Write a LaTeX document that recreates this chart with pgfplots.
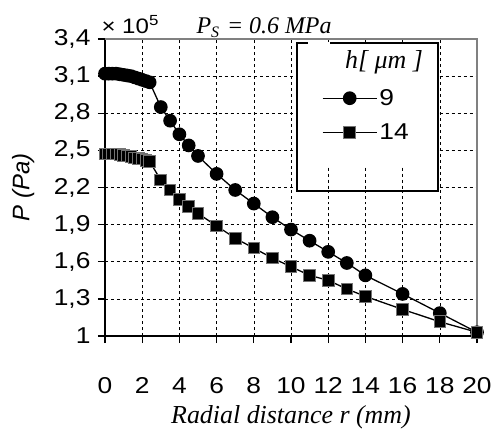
\documentclass[border=0pt]{standalone}
\usepackage{fontspec}
\setmainfont{Liberation Sans}
\newfontfamily\timesf{Liberation Serif}
\newfontfamily\tickf{Liberation Sans}[FakeStretch=1.15]
\usepackage{pgfplots}
\pgfplotsset{compat=1.18}

\begin{document}
\begin{tikzpicture}
\useasboundingbox (-105bp,-96bp) rectangle (389bp,336bp);
\begin{axis}[
  scale only axis, width=372bp, height=297bp,
  xmin=0, xmax=20, ymin=1, ymax=3.4,
  xtick={0,2,...,20},
  ytick={1,1.3,1.6,1.9,2.2,2.5,2.8,3.1,3.4},
  yticklabels={1,{1,3},{1,6},{1,9},{2,2},{2,5},{2,8},{3,1},{3,4}},
  /pgf/number format/assume math mode=true,
  tick label style={font=\tickf\fontsize{23}{26}\selectfont},
  xticklabel style={yshift=-31bp},
  yticklabel style={xshift=-4bp},
  axis lines*=left,
  axis line style={-, line width=1.5bp, black},
  tick align=outside, major tick length=7bp,
  tick style={black, line width=1.3bp},
  grid=major, major grid style={black, dashed, line width=0.6bp},
  xlabel={\timesf\itshape Radial distance r (mm)},
  ylabel={\itshape P (Pa)},
  xlabel style={font=\fontsize{26}{30}\selectfont, at={(axis description cs:0.5,-0.272)}, anchor=center},
  ylabel style={font=\fontsize{24}{28}\selectfont, at={(axis description cs:-0.22,0.5)}, anchor=center},
  legend style={draw=none, fill=none, font=\tickf\fontsize{23}{26}\selectfont,
    at={(rel axis cs:0.583,0.743)}, anchor=west, row sep=13bp, inner sep=0pt,
    nodes={inner sep=2bp}},
  legend cell align=left,
  legend image code/.code={\draw[mark repeat=2,mark phase=2] plot coordinates {(0bp,0bp)(27bp,0bp)(54bp,0bp)};},
  clip=false
]
\draw[gray, line width=1.2bp] (rel axis cs:0,1) -- (rel axis cs:1,1) -- (rel axis cs:1,0);
\draw[fill=white, line width=1.4bp] (rel axis cs:0.516,0.9865) rectangle (rel axis cs:0.895,0.488);
\draw[white, line width=3bp] (rel axis cs:0.546,0.9865) -- (rel axis cs:0.605,0.9865);
\draw[black, dashed, line width=0.6bp] (axis cs:12,2.36) -- (axis cs:12,2.17);
\draw[black, dashed, line width=0.6bp] (axis cs:14,2.36) -- (axis cs:14,2.17);
\draw[black, dashed, line width=0.6bp] (axis cs:16,2.36) -- (axis cs:16,2.17);
\node[font=\timesf\itshape\fontsize{26}{30}\selectfont, anchor=center] at (rel axis cs:0.75,0.92) {h[ μm ]};
\addplot[black, line width=1.3bp, mark=*, mark size=6.2bp, mark options={fill=black, solid}] coordinates {
(0,3.12)(0.2,3.12)(0.4,3.12)(0.6,3.12)(0.8,3.115)(1.0,3.11)(1.2,3.105)(1.4,3.10)(1.6,3.09)(1.8,3.08)(2.0,3.07)(2.2,3.06)(2.4,3.05)
(3,2.85)(3.5,2.74)(4,2.63)(4.5,2.54)(5,2.455)(6,2.31)(7,2.18)(8,2.07)(9,1.96)(10,1.86)(11,1.77)(12,1.68)(13,1.59)(14,1.49)(16,1.34)(18,1.185)(20,1.03)};
\addplot[black, line width=1.3bp, mark=square*, mark size=5.8bp, mark options={fill=black, draw=black!55, line width=1bp, solid}] coordinates {
(0,2.47)(0.2,2.47)(0.4,2.47)(0.6,2.47)(0.8,2.465)(1.0,2.46)(1.2,2.455)(1.4,2.45)(1.6,2.44)(1.8,2.435)(2.0,2.43)(2.2,2.42)(2.4,2.41)
(3,2.26)(3.5,2.18)(4,2.105)(4.5,2.045)(5,1.99)(6,1.89)(7,1.79)(8,1.71)(9,1.63)(10,1.56)(11,1.49)(12,1.45)(13,1.38)(14,1.32)(16,1.215)(18,1.115)(20,1.03)};
\legend{9,14}
\node[anchor=base west, font=\tickf\fontsize{21}{24}\selectfont] at ([xshift=-7bp,yshift=6bp]rel axis cs:0,1) {× 10\textsuperscript{5}};
\node[anchor=base west, font=\timesf\itshape\fontsize{24}{28}\selectfont] at ([xshift=88bp,yshift=6bp]rel axis cs:0,1) {P\raisebox{-0.4ex}{\fontsize{16}{16}\selectfont S}\,\,= 0.6 MPa};
\end{axis}
\end{tikzpicture}
\end{document}
